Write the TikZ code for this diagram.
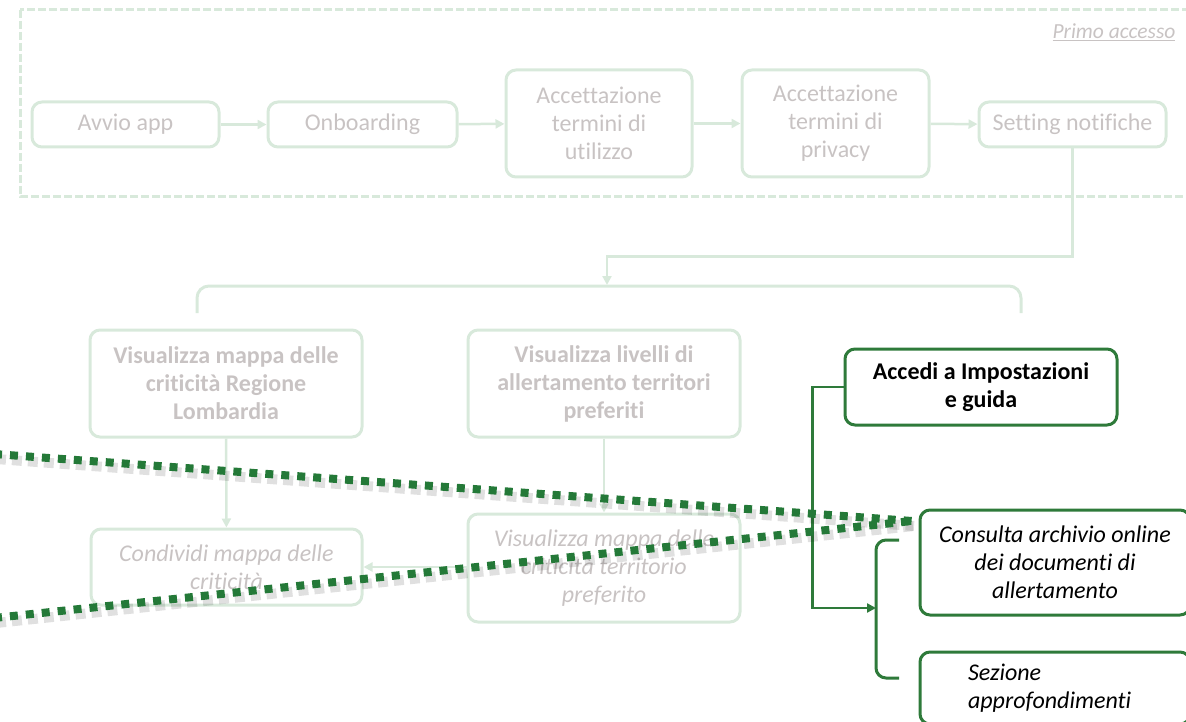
\documentclass[tikz,border=0pt]{standalone}
\usepackage{fontspec}
\setmainfont{Carlito}[Ligatures=NoCommon]
\usetikzlibrary{arrows.meta}
\definecolor{fadegreen}{RGB}{216,233,219}
\definecolor{fadetext}{RGB}{200,195,195}
\definecolor{darkgreen}{RGB}{46,122,58}
\definecolor{dotgreen}{RGB}{36,121,56}
\newcommand{\boxfont}{\fontsize{24}{28}\selectfont}
\tikzstyle{faded}=[draw=fadegreen, line width=3pt, rounded corners=10pt, text=fadetext, align=center, inner sep=0pt, font=\boxfont]
\tikzstyle{active}=[draw=darkgreen, line width=3pt, rounded corners=10pt, text=black, align=center, inner sep=0pt, font=\boxfont]
\tikzstyle{fadelink}=[-{Triangle[length=9pt,width=9pt]}, fadegreen, line width=2.5pt]
\tikzstyle{link}=[-{Triangle[length=9pt,width=9pt]}, darkgreen, line width=2.5pt]
\tikzstyle{zoomline}=[dotgreen, line width=8pt, dash pattern=on 8pt off 8pt]
\tikzstyle{zoomshadow}=[black, opacity=0.12, line width=10pt, dash pattern=on 10pt off 6pt]

\begin{document}
\begin{tikzpicture}[x=1pt, y=-1pt]
    \useasboundingbox (0,0) rectangle (1186,722);
    \clip (0,0) rectangle (1186,722);
    % primo accesso
    \draw[fadegreen, line width=3pt, dash pattern=on 8pt off 3pt] (20,10) rectangle (1210,197);
    \node[anchor=east, text=fadetext, font=\fontsize{21.5}{24}\selectfont\itshape] (primo) at (1179,32) {\underline{Primo accesso}};
    \node[faded, minimum width=187pt, minimum height=45pt] (avvio) at (125.5,124.5) {Avvio app};
    \node[faded, minimum width=189pt, minimum height=45pt] (onboarding) at (362.5,124.5) {Onboarding};
    \node[faded, minimum width=186pt, minimum height=107pt] (termini) at (599,123.5) {Accettazione\\termini di\\utilizzo};
    \node[faded, minimum width=187pt, minimum height=107pt] (privacy) at (835.5,123.5) {Accettazione\\termini di\\privacy};
    \node[faded, minimum width=187pt, minimum height=45pt] (notifiche) at (1072.5,124.5) {Setting notifiche};
    \draw[fadelink] (avvio) -- (onboarding);
    \draw[fadelink] (onboarding) -- (termini);
    \draw[fadelink] (termini) -- (privacy);
    \draw[fadelink] (privacy) -- (notifiche);
    % ramificazione
    \coordinate (split) at (607,285);
    \draw[fadelink] (notifiche.south) -- ++(0,108) -| (split);
    \draw[fadegreen, line width=3pt, rounded corners=12pt] (197,313) -- (197,286) -- (1021,286) -- (1021,313);
    \node[faded, font=\boxfont\bfseries, minimum width=272pt, minimum height=107pt] (mappa) at (226,383.5) {Visualizza mappa delle\\criticità Regione\\Lombardia};
    \node[faded, font=\boxfont\bfseries, minimum width=272pt, minimum height=107pt] (livelli) at (604,383.5) {Visualizza livelli di\\allertamento territori\\preferiti};
    \node[active, font=\boxfont\bfseries, minimum width=272pt, minimum height=76pt] (impostazioni) at (981,387) {Accedi a Impostazioni\\e guida};
    \node[faded, font=\boxfont\itshape, minimum width=271pt, minimum height=76pt] (condividi) at (226.5,567) {Condividi mappa delle\\criticità};
    \node[faded, font=\boxfont\itshape, minimum width=272pt, minimum height=108pt] (territorio) at (604,568) {Visualizza mappa delle\\criticità territorio\\preferito};
    \draw[fadelink] (mappa) -- (condividi);
    \draw[fadelink] (livelli) -- (territorio);
    \draw[fadelink] (territorio.west |- condividi.east) -- (condividi.east);
    % impostazioni e guida
    \node[active, font=\boxfont\itshape, minimum width=270pt, minimum height=105pt] (archivio) at (1055,562.5) {Consulta archivio online\\dei documenti di\\allertamento};
    \node[active, font=\boxfont\itshape, text width=174pt, align=left, minimum width=270pt, minimum height=72pt] (approfondimenti) at (1055,688) {Sezione\\approfondimenti};
    \coordinate (bracemid) at (876,608);
    \draw[link] (impostazioni.west) -- ++(-31,0) |- (bracemid);
    \draw[darkgreen, line width=3pt, rounded corners=10pt] (899,540) -- (876,540) -- (876,678) -- (899,678);
    % linee di zoom
    \coordinate (focus) at (912,521);
    \coordinate (upper) at (-6,454);
    \coordinate (lower) at (-6,618);
    \draw[zoomshadow] ([shift={(2,5)}]upper) -- ([shift={(2,5)}]focus);
    \draw[zoomshadow] ([shift={(2,5)}]lower) -- ([shift={(2,5)}]focus);
    \draw[zoomline] (upper) -- (focus);
    \draw[zoomline] (lower) -- (focus);
\end{tikzpicture}
\end{document}
